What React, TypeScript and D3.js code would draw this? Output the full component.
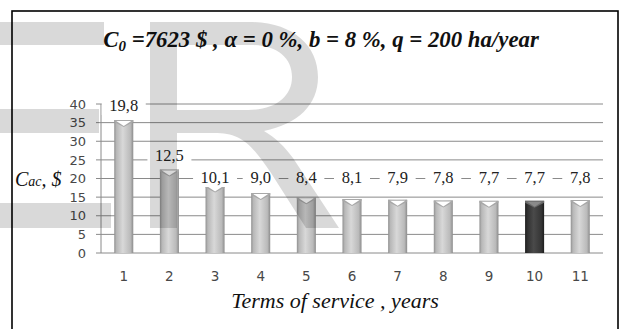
import React from 'react';
import * as d3 from 'd3';

const years = ['1', '2', '3', '4', '5', '6', '7', '8', '9', '10', '11'];
const barValues = [35.7, 22.4, 18.1, 16.1, 15.0, 14.5, 14.3, 14.1, 14.0, 14.0, 14.2];
const labelValues = [19.8, 12.5, 10.1, 9.0, 8.4, 8.1, 7.9, 7.8, 7.7, 7.7, 7.8];
const highlightYear = '10';
const yTicks = [0, 5, 10, 15, 20, 25, 30, 35, 40];

const W = 624;
const H = 329;
const serif = "'Liberation Serif', 'Times New Roman', Tinos, 'DejaVu Serif', serif";
const sans = "'DejaVu Sans', Verdana, sans-serif";

export default function App() {
  const x = d3.scaleBand<string>().domain(years).range([101, 603]).paddingInner(0.583).paddingOuter(0.29);
  const y = d3.scaleLinear().domain([0, 40]).range([253, 104]);
  const fmt = (v: number) => d3.format('.1f')(v).replace('.', ',');
  const bw = x.bandwidth();
  const serifStyle = { fontFamily: serif };
  const sansStyle = { fontFamily: sans };

  return (
    <svg width={W} height={H} style={{ position: 'absolute', left: 0, top: 0, background: '#fff' }}>
      <defs>
        <linearGradient id="gLight" x1="0" x2="1" y1="0" y2="0">
          <stop offset="0" stopColor="#909090" />
          <stop offset="0.12" stopColor="#b8b8b8" />
          <stop offset="0.45" stopColor="#d8d8d8" />
          <stop offset="0.85" stopColor="#bababa" />
          <stop offset="1" stopColor="#8c8c8c" />
        </linearGradient>
        <linearGradient id="gDark" x1="0" x2="1" y1="0" y2="0">
          <stop offset="0" stopColor="#1e1e1e" />
          <stop offset="0.15" stopColor="#333" />
          <stop offset="0.45" stopColor="#4a4a4a" />
          <stop offset="0.85" stopColor="#353535" />
          <stop offset="1" stopColor="#1c1c1c" />
        </linearGradient>
      </defs>
      <rect x={0} y={0} width={W} height={H} fill="#fff" />
      <rect x={12} y={11} width={606} height={340} fill="none" stroke="#000" strokeWidth={1.6} />

      {/* gridlines */}
      {yTicks.map((t) => (
        <line key={'g' + t} x1={96} x2={603} y1={y(t)} y2={y(t)} stroke="#8a8a8a" strokeWidth={1} />
      ))}
      <line x1={101} x2={101} y1={y(40)} y2={y(0)} stroke="#8a8a8a" strokeWidth={1} />

      {/* y tick labels */}
      {yTicks.map((t) => (
        <text key={'t' + t} x={86} y={y(t)} dy="0.36em" textAnchor="end" style={sansStyle} fontSize={13} fill="#484848">
          {t}
        </text>
      ))}

      {/* bars */}
      {years.map((yr, i) => {
        const x0 = x(yr)!;
        const top = y(barValues[i]);
        const dark = yr === highlightYear;
        const cx = x0 + bw / 2;
        return (
          <g key={'b' + yr}>
            <rect x={x0} y={top} width={bw} height={y(0) - top} fill={dark ? 'url(#gDark)' : 'url(#gLight)'} />
            <path
              d={`M${x0},${top} L${x0 + bw},${top} L${x0 + bw},${top + 2} L${cx},${top + 7} L${x0},${top + 2} Z`}
              fill={dark ? '#6a6a6a' : '#a8a8a8'}
            />
            <path
              d={`M${x0 + 2},${top + 1} L${x0 + bw - 2},${top + 1} L${cx},${top + 6} Z`}
              fill={dark ? '#8a8a8a' : '#ffffff'}
            />
          </g>
        );
      })}

      {/* value labels */}
      {years.map((yr, i) => {
        const top = y(barValues[i]);
        const base = top < 175 ? top - 9 : 183;
        const s = fmt(labelValues[i]);
        const w = s.length * 8 + 12;
        const cx = x(yr)! + bw / 2;
        return (
          <g key={'l' + yr}>
            <rect x={cx - w / 2} y={base - 14} width={w} height={18} fill="#fff" />
            <text x={cx} y={base} textAnchor="middle" style={serifStyle} fontSize={16.5} fill="#222">
              {s}
            </text>
          </g>
        );
      })}

      {/* x tick labels */}
      {years.map((yr) => (
        <text key={'x' + yr} x={x(yr)! + bw / 2} y={281} textAnchor="middle" style={sansStyle} fontSize={13.5} fill="#484848">
          {yr}
        </text>
      ))}

      {/* titles */}
      <text x={321} y={47} textAnchor="middle" style={serifStyle} fontSize={22.8} fontWeight="bold" fontStyle="italic" fill="#111">
        <tspan>C</tspan>
        <tspan fontSize={15} dy={4}>0</tspan>
        <tspan dy={-4}>{' =7623 $ , α = 0 %, b = 8 %, q = 200 ha/year'}</tspan>
      </text>
      <text x={335} y={308} textAnchor="middle" style={serifStyle} fontSize={22} fontStyle="italic" fill="#111">
        Terms of service , years
      </text>
      <text x={15} y={186} style={serifStyle} fontSize={20} fontStyle="italic" fill="#111">
        <tspan>C</tspan>
        <tspan fontSize={14}>ac</tspan>
        <tspan>{',  $'}</tspan>
      </text>

      {/* watermark */}
      <g fill="#000" fillOpacity={0.15} fillRule="evenodd">
        <rect x={0} y={22} width={104} height={23} />
        <rect x={0} y={109} width={99} height={24} />
        <rect x={0} y={203} width={111} height={25} />
        <path d="M150,228 V22 H250 C292,22 318,45 318,77 C318,105 298,124 264,131 C276,138 284,146 293,158 L339,228 H306 L271,173 C250,142 240,133 214,133 H177 V228 Z M177,45 V110 H248 C276,110 292,96 292,77 C292,57 276,45 250,45 Z" />
      </g>
    </svg>
  );
}
